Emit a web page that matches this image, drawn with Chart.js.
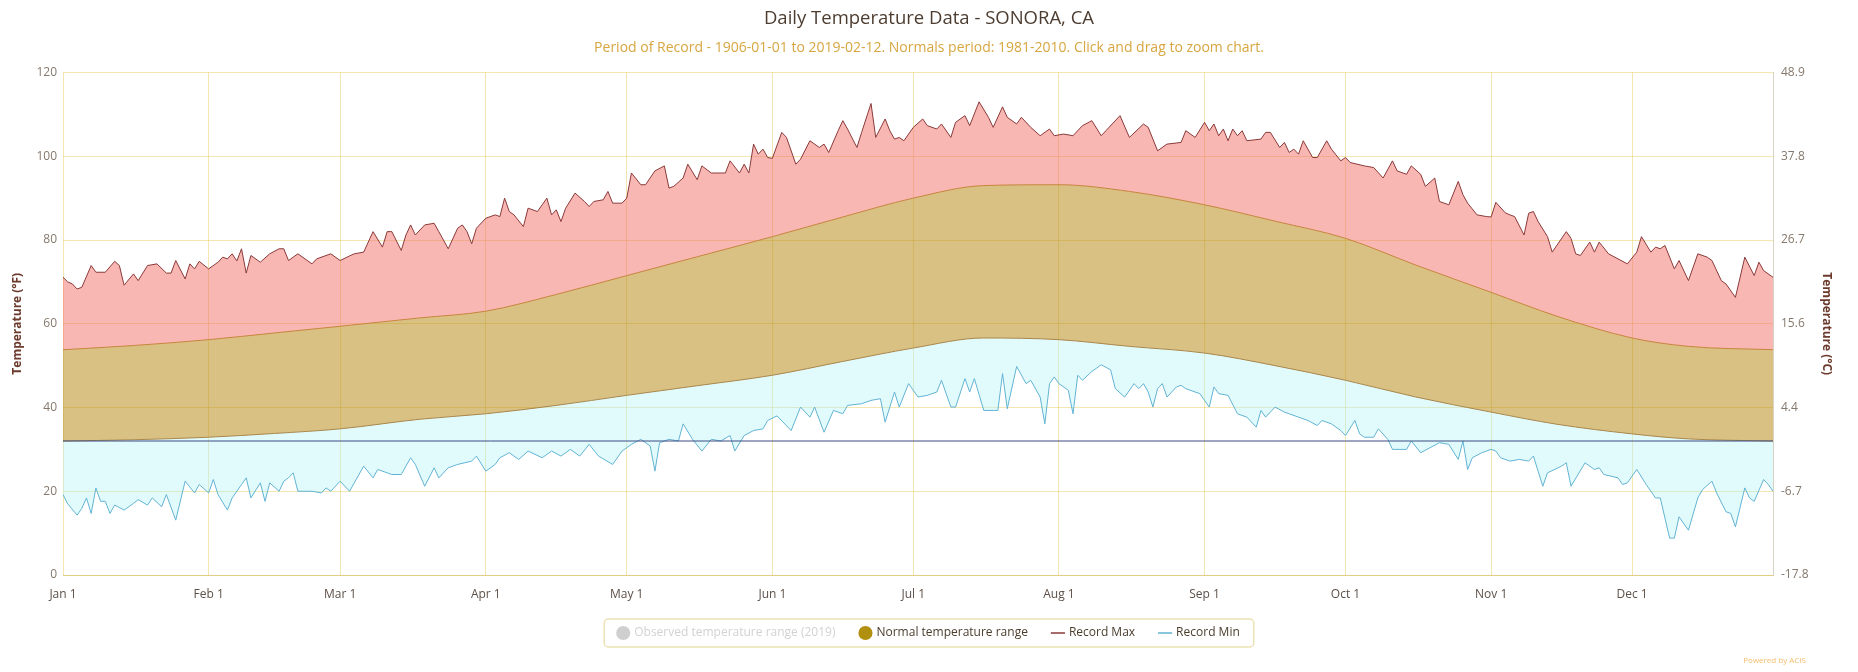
<!DOCTYPE html>
<html><head><meta charset="utf-8">
<script src="https://cdn.jsdelivr.net/npm/chart.js@4.4.1/dist/chart.umd.min.js"></script>
<style>html,body{margin:0;padding:0;background:#fff;}#wrap{width:1858px;height:672px;}</style>
</head><body><div id="wrap"><canvas id="c" width="1858" height="672"></canvas></div>
<script>
// ---- data (day-of-year index, 0 = Jan 1) ----
const monthDays = [0,31,59,90,120,151,181,212,243,273,304,334];
const monthLabels = ['Jan 1','Feb 1','Mar 1','Apr 1','May 1','Jun 1','Jul 1','Aug 1','Sep 1','Oct 1','Nov 1','Dec 1'];
const celsiusTickLabels = ['-17.8','-6.7','4.4','15.6','26.7','37.8','48.9'];

const normalDays = [0,15,31,45,59,76,90,105,120,135,151,166,181,196,212,227,243,258,273,288,304,318,334,346,364];
const normalHigh = [53.8,54.8,56.2,57.8,59.4,61.4,63.0,67.0,71.5,76.0,80.8,85.5,90.0,93.0,93.2,91.6,88.4,84.5,80.4,74.0,67.5,61.8,56.6,54.6,53.8];
const normalLow  = [32.0,32.3,32.9,33.8,34.9,37.2,38.5,40.5,42.9,45.2,47.7,51.0,54.2,56.6,56.2,54.6,53.0,50.0,46.5,42.5,38.9,36.0,33.7,32.5,32.0];

const recordMaxDays = [
0,1,2,3,4,6,7,9,11,12,
13,15,16,18,20,22,23,24,26,27,
28,29,31,33,34,35,36,37,38,39,
40,42,44,46,47,48,50,53,54,57,
59,61,62,64,66,68,69,70,72,73,
74,75,77,79,80,82,84,85,86,87,
88,90,92,93,94,95,96,98,99,101,
102,103,104,105,106,107,109,111,112,113,
115,116,117,119,120,121,123,124,126,128,
129,130,132,133,135,136,138,139,141,142,
144,145,146,147,148,149,150,151,153,154,
156,157,159,161,162,163,165,166,167,169,
170,172,173,175,176,177,178,179,181,183,
184,186,187,189,190,192,193,195,197,198,
200,201,203,204,206,208,210,211,213,215,
217,219,221,222,225,227,230,231,233,235,
238,239,241,243,244,245,246,247,248,249,
250,251,252,255,256,257,259,260,261,262,
263,264,266,267,269,270,272,273,274,277,
279,281,283,284,286,287,289,290,292,293,
295,297,298,299,301,303,304,305,307,308,
309,311,312,313,314,316,317,320,321,322,
323,325,326,327,329,331,333,335,336,338,
339,340,341,343,344,346,348,350,351,353,
354,356,358,360,361,362,364];
const recordMaxTemps = [
71.1,70.0,69.5,68.3,68.7,73.9,72.3,72.3,74.9,73.9,
69.2,71.9,70.3,73.9,74.3,72.1,72.1,75.1,70.7,74.3,
73.1,74.9,73.1,74.7,75.9,75.5,76.7,75.0,77.9,72.1,
76.3,74.7,76.7,77.9,77.9,75.1,76.7,74.3,75.5,76.7,
75.1,76.2,76.7,77.1,82.0,78.3,82.0,82.0,77.5,81.2,
83.6,81.2,83.6,84.0,82.0,77.9,82.8,83.6,82.0,79.1,
82.8,85.2,86.0,85.6,90.0,86.8,86.0,83.2,87.6,86.8,
88.4,90.0,86.0,87.2,84.4,87.6,91.2,89.2,88.0,89.2,
89.6,91.6,88.8,88.8,90.0,96.0,93.2,93.2,96.5,97.7,
92.4,92.8,94.8,98.1,94.4,97.7,96.0,96.0,96.0,98.9,
96.0,98.1,96.0,102.9,100.5,101.7,99.7,99.5,105.7,104.5,
98.1,99.3,103.7,102.1,102.9,100.9,106.1,108.5,106.5,102.1,
105.7,112.6,104.5,108.9,106.1,104.1,104.5,103.7,106.9,108.9,
107.3,106.5,107.7,104.5,108.1,109.7,107.3,113.0,109.3,106.9,
111.8,109.3,107.7,109.3,106.9,104.9,106.5,104.9,105.3,104.9,
107.3,108.5,104.9,106.1,109.7,104.5,107.7,106.9,101.3,102.9,
103.3,106.1,104.5,108.1,106.1,107.7,104.9,106.5,103.7,106.5,
104.9,106.1,103.7,104.1,105.7,105.7,102.1,103.3,100.9,101.7,
100.5,103.7,99.7,99.7,103.7,101.7,98.9,99.7,98.5,97.7,
97.3,94.8,98.9,96.5,95.7,97.7,95.7,92.8,94.8,89.2,
88.4,94.0,90.8,88.8,86.0,85.6,85.5,89.0,86.5,86.0,
85.6,81.2,86.4,86.8,84.4,80.8,77.1,82.0,80.4,76.7,
76.3,79.5,77.1,79.5,76.7,75.5,74.3,77.1,80.8,77.1,
78.3,77.9,78.7,73.1,75.1,70.3,76.7,75.9,75.1,70.3,
69.5,66.3,75.9,71.5,74.7,72.7,71.1];

const recordMinDays = [
0,1,3,4,5,6,7,8,9,10,
11,13,15,16,18,19,21,22,24,26,
28,29,31,32,33,35,36,38,39,40,
42,43,44,46,47,48,49,50,53,55,
56,57,59,61,64,66,67,70,72,74,
75,77,79,80,82,84,87,88,90,92,
93,95,97,99,102,104,106,108,110,112,
114,117,119,121,123,125,126,127,129,131,
132,134,136,138,140,142,143,145,147,149,
150,152,155,157,159,160,162,164,166,167,
170,172,174,175,177,178,180,182,184,186,
187,189,190,192,193,194,196,198,199,200,
201,203,205,206,208,209,210,211,212,214,
215,216,217,219,221,223,224,226,228,229,
230,231,232,233,234,235,237,238,239,242,
244,245,246,248,250,252,254,255,256,257,
258,260,261,263,265,267,268,270,272,273,
275,276,277,279,280,282,283,286,287,289,
291,293,295,297,298,299,300,302,304,305,
306,308,310,312,313,315,316,319,320,321,
324,326,327,328,331,332,333,335,337,339,
340,342,343,344,346,348,349,351,352,354,
355,356,358,359,360,362,363,364];
const recordMinTemps = [
19.2,17.0,14.3,15.9,18.4,14.7,20.8,17.6,17.6,14.7,
16.7,15.5,17.1,18.0,16.7,18.4,16.3,19.2,13.1,22.4,
19.6,21.6,19.6,22.8,19.2,15.5,18.4,21.6,23.2,18.4,
22.0,17.6,22.0,20.0,22.4,23.2,24.4,20.0,20.0,19.6,
20.8,20.0,22.4,20.0,26.0,23.2,25.2,24.0,24.0,28.0,
26.4,21.2,25.6,23.2,25.6,26.4,27.2,28.4,24.8,26.4,
28.0,29.2,27.6,29.6,28.0,29.6,28.4,30.0,28.4,31.2,
28.4,26.4,29.6,31.2,32.4,30.8,24.8,31.6,32.4,32.0,
36.1,32.4,29.6,32.4,32.0,33.3,29.6,33.3,34.5,34.9,
36.9,38.0,34.5,40.1,37.7,40.1,34.1,39.3,38.5,40.5,
40.9,41.7,42.1,36.5,43.7,40.1,45.7,42.5,42.9,43.7,
46.5,40.1,40.1,46.9,43.7,46.9,39.3,39.3,39.3,48.1,
39.7,49.8,45.7,46.5,42.5,36.1,45.7,47.3,45.7,44.1,
38.5,47.7,46.5,48.6,50.2,49.0,44.5,42.5,45.7,44.5,
45.7,43.7,40.1,44.5,45.7,42.5,44.9,45.3,44.5,43.3,
40.1,44.9,43.3,42.9,38.5,37.7,35.3,39.3,37.7,38.9,
40.1,38.9,38.5,37.7,36.9,35.7,36.9,36.1,34.5,33.3,
36.9,33.7,32.9,32.9,34.9,32.4,30.0,30.0,32.0,29.2,
30.4,31.6,31.2,27.6,32.0,25.2,28.0,29.2,30.0,29.6,
28.0,27.2,27.6,27.2,28.4,21.2,24.4,26.0,26.8,21.2,
26.8,25.2,25.6,24.0,23.2,21.6,22.0,25.2,21.6,18.4,
18.4,8.8,8.8,13.9,10.7,18.4,20.4,22.4,19.6,15.1,
14.7,11.5,20.8,18.4,17.6,22.8,21.6,20.0];

const freezeDays = [0,364];
const freezeTemps = [32,32];

// ---- helpers to build library data ----
const pts = (xs, ys) => xs.map((x, i) => ({x: x, y: ys[i]}));

const gridColor = 'rgba(232,205,100,0.5)';
const font = "'Open Sans', 'DejaVu Sans', sans-serif";
Chart.defaults.font.family = font;

const legendItems = [
  {text:'Observed temperature range (2019)', fillStyle:'#cfcfcf', strokeStyle:'#cfcfcf', fontColor:'#d2d2d2', pointStyle:'circle', lineWidth:0, hidden:false},
  {text:'Normal temperature range', fillStyle:'#b1900f', strokeStyle:'#b1900f', fontColor:'#4a3d2c', pointStyle:'circle', lineWidth:0, hidden:false},
  {text:'Record Max', fillStyle:'#8a3a3a', strokeStyle:'#8a3a3a', fontColor:'#4a3d2c', pointStyle:'line', lineWidth:1.5, hidden:false},
  {text:'Record Min', fillStyle:'#62b3d3', strokeStyle:'#62b3d3', fontColor:'#4a3d2c', pointStyle:'line', lineWidth:1.5, hidden:false}
];

const decor = {
  id: 'decor',
  afterDraw(chart) {
    const ctx = chart.ctx;
    const hb = chart.legend && chart.legend.legendHitBoxes;
    if (hb && hb.length) {
      let l = Infinity, r = -Infinity, t = Infinity, b = -Infinity;
      hb.forEach(h => { l = Math.min(l, h.left); r = Math.max(r, h.left + h.width); t = Math.min(t, h.top); b = Math.max(b, h.top + h.height); });
      ctx.save();
      ctx.strokeStyle = '#ece2b4';
      ctx.lineWidth = 1.5;
      ctx.beginPath();
      ctx.roundRect(l - 14, t - 8, (r - l) + 28, (b - t) + 16, 4);
      ctx.stroke();
      ctx.restore();
    }
    ctx.save();
    ctx.font = "8px " + font;
    ctx.fillStyle = '#f4bc6c';
    ctx.textAlign = 'right';
    ctx.textBaseline = 'middle';
    ctx.fillText('Powered by ACIS', 1806, 661);
    ctx.restore();
  }
};

new Chart(document.getElementById('c'), {
  type: 'line',
  data: {
    datasets: [
      {label:'Record Max', data: pts(recordMaxDays, recordMaxTemps), borderColor:'#8a3a3a', borderWidth:1,
       backgroundColor:'rgba(244,112,104,0.5)', fill:{target:1}, tension:0, pointRadius:0, order:4},
      {label:'Normal High', data: pts(normalDays, normalHigh), borderColor:'#c8843e', borderWidth:1,
       backgroundColor:'rgba(185,140,30,0.55)', fill:{target:2}, cubicInterpolationMode:'monotone', pointRadius:0, order:3},
      {label:'Normal Low', data: pts(normalDays, normalLow), borderColor:'#a9874c', borderWidth:1,
       fill:false, cubicInterpolationMode:'monotone', pointRadius:0, order:2},
      {label:'Record Min', data: pts(recordMinDays, recordMinTemps), borderColor:'#62b3d3', borderWidth:1,
       backgroundColor:'rgba(180,244,248,0.4)', fill:{target:2}, tension:0, pointRadius:0, order:5},
      {label:'Freezing', data: pts(freezeDays, freezeTemps), borderColor:'#3b4a82', borderWidth:1,
       fill:false, pointRadius:0, order:1}
    ]
  },
  options: {
    responsive: false,
    devicePixelRatio: 1,
    animation: false,
    events: [],
    layout: { padding: { left: 0, right: 0, top: 0, bottom: 23 } },
    plugins: {
      title: { display:true, text:'Daily Temperature Data - SONORA, CA', color:'#4d3d31',
               font:{size:18.5, weight:'normal', family:font}, padding:{top:8, bottom:4} },
      subtitle: { display:true, text:'Period of Record - 1906-01-01 to 2019-02-12. Normals period: 1981-2010. Click and drag to zoom chart.',
               color:'#d7a640', font:{size:14, family:font}, padding:{top:5, bottom:16.5} },
      legend: { display:true, position:'bottom',
        labels: { usePointStyle:true, boxWidth:10, boxHeight:10, padding:25, font:{size:12, family:font},
                  generateLabels: () => legendItems.map(o => Object.assign({}, o)) } },
      tooltip: { enabled:false }
    },
    scales: {
      x: {
        type:'linear', min:0, max:364,
        afterBuildTicks: s => { s.ticks = monthDays.map(v => ({value:v})); },
        afterFit: s => { s.height = 27; },
        ticks: { autoSkip:false, maxRotation:0, padding:12, color:'#5c5048', font:{size:12},
                 callback: (v, i) => monthLabels[i] },
        grid: { color: gridColor, lineWidth:1, drawTicks:false },
        border: { display:true, color:'#e3cd82', width:1 }
      },
      y: {
        position:'left', min:0, max:120,
        afterFit: s => { s.width = 63; },
        ticks: { stepSize:20, padding:6, color:'#85786c', font:{size:12} },
        grid: { color: gridColor, lineWidth:1, drawTicks:false },
        border: { display:false },
        title: { display:true, text:'Temperature (°F)', color:'#6b3a2c', font:{size:12, weight:'bold'}, padding:{top:10, bottom:0} }
      },
      y2: {
        position:'right', min:0, max:120,
        afterFit: s => { s.width = 85; },
        ticks: { stepSize:20, padding:8, color:'#85786c', font:{size:12}, callback: (v, i) => celsiusTickLabels[i] },
        grid: { drawOnChartArea:false, drawTicks:false },
        border: { display:true, color:'#d8d2c4', dash:[2,3] },
        title: { display:true, text:'Temperature (°C)', color:'#6b3a2c', font:{size:12, weight:'bold'}, padding:{top:24, bottom:0} }
      }
    }
  },
  plugins: [decor]
});
</script>
</body></html>
